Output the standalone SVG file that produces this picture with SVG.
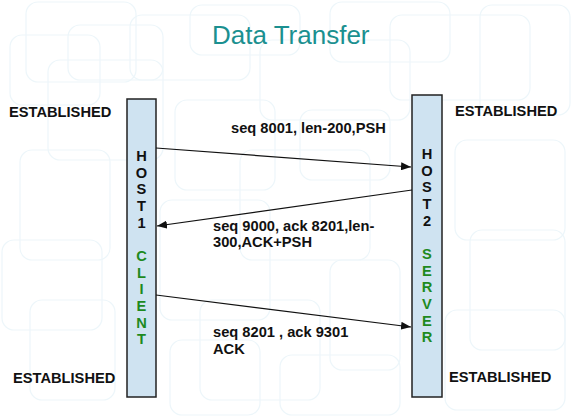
<svg xmlns="http://www.w3.org/2000/svg" width="573" height="418" viewBox="0 0 573 418">
<defs>
<style>
.bg{fill:none;stroke:#edf6fa;stroke-width:1.2}
.bar{fill:#cfe3f1;stroke:#222;stroke-width:1.5}
.t{font-family:"Liberation Sans",Arial,sans-serif;font-weight:bold;font-size:14.67px;fill:#111}
.v{font-family:"Liberation Sans",Arial,sans-serif;font-weight:bold;font-size:14.67px;text-anchor:middle}
.h{fill:#111}
.g{fill:#1e8a1e}
.ln{stroke:#111;stroke-width:1.2;fill:none;marker-end:url(#ah)}
</style>
<marker id="ah" viewBox="0 0 10 8" refX="10" refY="4" markerWidth="10" markerHeight="8" markerUnits="userSpaceOnUse" orient="auto">
<path d="M0,0 L10,4 L0,8 z" fill="#111"/>
</marker>
</defs>
<rect width="573" height="418" fill="#ffffff"/>
<g id="background">
<rect class="bg" x="26" y="2" width="110" height="80" rx="12"/>
<rect class="bg" x="10" y="35" width="90" height="70" rx="12"/>
<rect class="bg" x="48" y="60" width="115" height="100" rx="12"/>
<rect class="bg" x="68" y="25" width="95" height="55" rx="12"/>
<rect class="bg" x="130" y="15" width="120" height="65" rx="12"/>
<rect class="bg" x="190" y="5" width="110" height="50" rx="12"/>
<rect class="bg" x="260" y="40" width="150" height="80" rx="12"/>
<rect class="bg" x="330" y="2" width="120" height="60" rx="12"/>
<rect class="bg" x="390" y="15" width="140" height="85" rx="12"/>
<rect class="bg" x="480" y="5" width="90" height="110" rx="12"/>
<rect class="bg" x="175" y="100" width="100" height="90" rx="12"/>
<rect class="bg" x="240" y="150" width="130" height="110" rx="12"/>
<rect class="bg" x="300" y="110" width="90" height="70" rx="12"/>
<rect class="bg" x="160" y="200" width="110" height="120" rx="12"/>
<rect class="bg" x="20" y="150" width="90" height="110" rx="12"/>
<rect class="bg" x="2" y="240" width="100" height="90" rx="12"/>
<rect class="bg" x="30" y="300" width="85" height="100" rx="12"/>
<rect class="bg" x="455" y="140" width="110" height="100" rx="12"/>
<rect class="bg" x="470" y="230" width="95" height="120" rx="12"/>
<rect class="bg" x="445" y="310" width="120" height="100" rx="12"/>
<rect class="bg" x="330" y="260" width="70" height="110" rx="12"/>
<rect class="bg" x="200" y="300" width="120" height="100" rx="12"/>
<rect class="bg" x="170" y="340" width="90" height="75" rx="12"/>
<rect class="bg" x="280" y="355" width="120" height="60" rx="12"/>
</g>
<text x="212" y="44" font-family="Liberation Sans,Arial,sans-serif" font-size="26" fill="#1b9090">Data Transfer</text>
<g id="host1">
<rect class="bar" x="127" y="99" width="29" height="298"/>
<text class="v h" x="141.5" y="161">H</text>
<text class="v h" x="141.5" y="177.7">O</text>
<text class="v h" x="141.5" y="194.3">S</text>
<text class="v h" x="141.5" y="211">T</text>
<text class="v h" x="141.5" y="227.7">1</text>
<text class="v g" x="141.5" y="261">C</text>
<text class="v g" x="141.5" y="277.7">L</text>
<text class="v g" x="141.5" y="294.3">I</text>
<text class="v g" x="141.5" y="311">E</text>
<text class="v g" x="141.5" y="327.7">N</text>
<text class="v g" x="141.5" y="344.3">T</text>
</g>
<g id="host2">
<rect class="bar" x="412" y="95" width="30" height="302"/>
<text class="v h" x="427" y="159">H</text>
<text class="v h" x="427" y="175.7">O</text>
<text class="v h" x="427" y="192.3">S</text>
<text class="v h" x="427" y="209">T</text>
<text class="v h" x="427" y="225.7">2</text>
<text class="v g" x="427" y="259">S</text>
<text class="v g" x="427" y="275.7">E</text>
<text class="v g" x="427" y="292.3">R</text>
<text class="v g" x="427" y="309">V</text>
<text class="v g" x="427" y="325.7">E</text>
<text class="v g" x="427" y="342.3">R</text>
</g>
<g id="states">
<text class="t" x="9" y="117">ESTABLISHED</text>
<text class="t" x="455" y="116">ESTABLISHED</text>
<text class="t" x="13" y="383">ESTABLISHED</text>
<text class="t" x="449" y="382">ESTABLISHED</text>
</g>
<g id="connectors">
<line class="ln" x1="156" y1="148" x2="411" y2="167"/>
<line class="ln" x1="412" y1="190" x2="157" y2="226"/>
<line class="ln" x1="156" y1="295" x2="411" y2="327"/>
</g>
<g id="labels">
<text class="t" x="231" y="133">seq 8001, len-200,PSH</text>
<text class="t" x="213" y="231">seq 9000, ack 8201,len-</text>
<text class="t" x="213" y="247">300,ACK+PSH</text>
<text class="t" x="213" y="337">seq 8201 , ack 9301</text>
<text class="t" x="213" y="354">ACK</text>
</g>
</svg>
